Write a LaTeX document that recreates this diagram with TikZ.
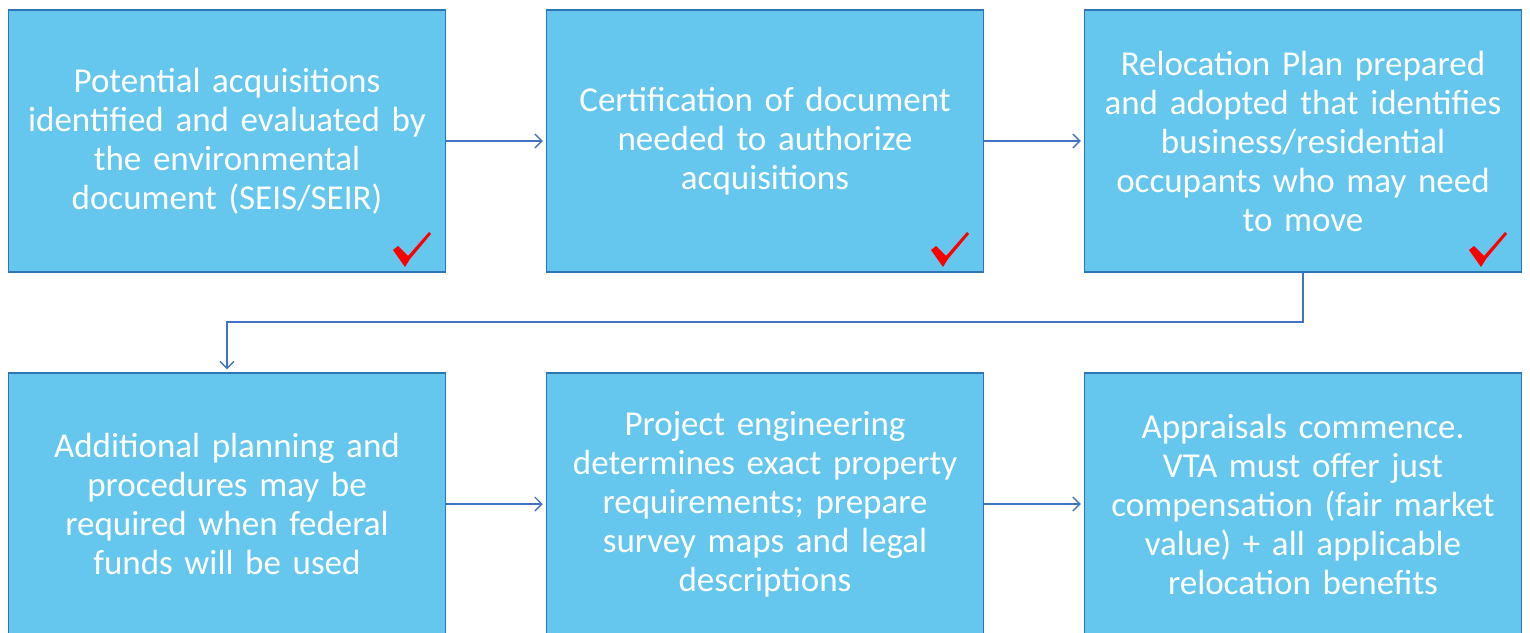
\documentclass[tikz,border=0pt]{standalone}
\usepackage{fontspec}
\setmainfont{Carlito}
\usetikzlibrary{arrows.meta}
\definecolor{boxfill}{HTML}{66C7EE}
\definecolor{boxline}{HTML}{2E75B6}
\definecolor{arrowc}{HTML}{4472C4}
\definecolor{checkred}{HTML}{FF0000}
\begin{document}
\begin{tikzpicture}[x=1pt,y=-1pt,
  stepbox/.style={draw=boxline,line width=1.5pt,fill=boxfill,minimum width=437pt,minimum height=262pt,
    text width=430pt,align=center,text=white,font=\fontsize{35}{39}\selectfont,inner sep=0pt},
  conn/.style={draw=arrowc,line width=1.3pt,shorten >=3pt,-{Straight Barb[length=7pt,width=14pt,line width=1.3pt]}}]
\useasboundingbox (0,0) rectangle (1530,632);
\begin{scope}
\clip (0,0) rectangle (1530,632);
\node[stepbox] (b1) at (227,141) {Potential acquisitions\\identified and evaluated by\\the environmental\\document (SEIS/SEIR)};
\node[stepbox] (b2) at (765,141) {Certification of document\\needed to authorize\\acquisitions};
\node[stepbox] (b3) at (1303,141) {Relocation Plan prepared\\and adopted that identifies\\business/residential\\occupants who may need\\to move};
\node[stepbox] (b4) at (227,504) {Additional planning and\\procedures may be\\required when federal\\funds will be used};
\node[stepbox] (b5) at (765,504) {Project engineering\\determines exact property\\requirements; prepare\\survey maps and legal\\descriptions};
\node[stepbox] (b6) at (1303,504) {Appraisals commence.\\VTA must offer just\\compensation (fair market\\value) + all applicable\\relocation benefits};
\end{scope}
\draw[conn] (b1.east) -- (b2.west);
\draw[conn] (b2.east) -- (b3.west);
\draw[conn] (b4.east) -- (b5.west);
\draw[conn] (b5.east) -- (b6.west);
\coordinate (m1) at (1303,322);
\coordinate (m2) at (227,322);
\draw[conn] (b3.south) -- (m1) -- (m2) -- (b4.north);
\foreach \dx in {0,538,1076}{
  \fill[checkred] (393+\dx,250) -- (398+\dx,246) -- (408+\dx,256) -- (429+\dx,232) -- (431+\dx,234)
    -- (410+\dx,259) -- (405+\dx,267) -- cycle;
}
\end{tikzpicture}
\end{document}
